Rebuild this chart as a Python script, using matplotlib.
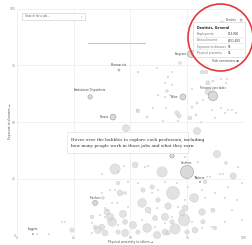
import numpy as np
import matplotlib
matplotlib.use("Agg")
import matplotlib.pyplot as plt
from matplotlib.patches import Rectangle, Ellipse
from matplotlib.lines import Line2D

# unlabelled occupations: physical proximity, exposure to diseases, employment (thousands)
prox = [43.2, 52.0, 63.9, 88.1, 95.2, 92.0, 68.7, 55.1, 78.0, 81.5, 73.6, 69.6,
        65.2, 57.3, 46.7, 41.9, 35.7, 51.1, 44.5, 66.5, 72.7, 62.1, 61.7, 47.6,
        38.8, 78.4, 65.2, 86.3, 87.2, 82.8, 59.5, 55.5, 79.3, 48.0, 24.2, 45.4,
        41.0, 37.4, 81.5, 83.3, 84.1, 84.1, 86.3, 70.5, 71.4, 76.2, 78.9, 79.3,
        77.1, 52.9, 66.1, 66.5, 71.8, 53.3, 53.3, 57.3, 90.3,
        74.0, 57.7, 39.6, 47.6, 60.8, 68.3, 81.9, 74.9, 66.5, 44.5, 53.3, 34.4,
        33.0, 37.9, 47.6,
        61.7, 62.1, 65.2, 68.3, 81.9, 86.3, 91.6, 94.7, 68.3, 67.4, 65.2, 59.9,
        65.6, 77.1, 89.9, 92.1, 92.5, 89.9, 93.0, 85.9, 96.5, 87.2, 81.1, 64.3,
        70.9, 37.4, 44.5, 47.1, 56.4, 57.7, 48.9, 53.3, 41.0, 37.4, 59.5, 62.1,
        70.5, 78.4, 83.7, 85.0, 89.4, 90.7, 97.4, 81.5, 87.2, 91.6, 96.9, 94.7,
        99.1, 91.6, 85.9, 74.0, 70.9, 61.7, 58.6, 48.9, 44.1, 38.8, 38.8, 33.0,
        33.0, 55.1, 68.3, 77.1, 81.5, 65.2, 44.5, 60.8, 82.8, 75.3, 65.2, 74.0,
        79.7, 99.1, 93.0, 19.8, 21.1, 8.8, 14.1, 36.6, 41.9, 39.6, 43.2, 45.4]
expo = [29.2, 31.0, 27.9, 35.8, 26.1, 31.9, 18.6, 14.2, 16.4, 10.2, 6.6, 2.7,
        8.0, 3.1, 9.3, 5.8, 2.2, 4.4, 23.0, 12.8, 9.7, 15.5, 0.0, 0.9,
        0.9, 2.2, 1.3, 11.0, 3.1, 23.5, 21.2, 19.9, 46.0, 47.3, 2.2, 18.6,
        8.0, 3.5, 72.1, 72.1, 67.3, 63.3, 68.1, 54.0, 52.7, 51.8, 53.1, 58.4,
        56.6, 55.3, 63.7, 69.9, 76.1, 72.1, 54.9, 52.2, 93.8,
        11.9, 11.1, 10.2, 5.8, 7.5, 5.8, 5.8, 1.3, 0.9, 1.3, 1.3, 3.5,
        8.0, 16.4, 18.6,
        73.9, 61.9, 67.3, 72.1, 59.7, 64.2, 54.0, 55.3, 66.4, 61.9, 61.1, 56.2,
        56.2, 64.6, 69.0, 67.3, 69.0, 56.2, 55.3, 55.3, 54.0, 51.8, 50.0, 50.4,
        50.4, 27.0, 27.9, 30.5, 30.1, 30.5, 23.5, 23.0, 19.9, 18.6, 18.6, 19.9,
        23.0, 25.7, 25.7, 25.7, 27.0, 27.0, 30.1, 19.9, 18.6, 16.4, 15.5, 11.1,
        6.6, 5.8, 3.5, 15.5, 12.4, 11.9, 9.7, 12.4, 14.2, 11.9, 8.0, 5.3,
        0.9, 6.6, 8.0, 5.8, 3.1, 5.3, 4.4, 3.5, 16.4, 21.2, 23.5, 34.5,
        32.3, 23.0, 21.2, 5.8, 5.8, 0.4, 0.4, 8.8, 14.2, 11.1, 19.9, 15.5]
emp = [1826, 602, 1826, 900, 744, 140, 2975, 1322, 1322, 744, 2321, 1826,
       900, 1322, 900, 1322, 900, 900, 240, 744, 600, 330, 900, 900,
       600, 600, 600, 330, 240, 240, 330, 330, 900, 900, 330, 600,
       900, 600, 240, 240, 330, 600, 80, 330, 330, 240, 80, 80,
       80, 80, 140, 50, 140, 50, 240, 80, 330,
       600, 600, 600, 440, 440, 330, 330, 330, 330, 330, 330, 240,
       240, 140, 140] + [40] * 83

# labelled occupations
lab_name = ["Dentists", "Surgeons", "Pharmacists", "Ambulance Dispatchers",
            "Nurses", "Police", "Personal care aides", "Fast food workers",
            "Cashiers", "Barbers", "Teachers", "Loggers"]
lab_prox = [98.7, 76.7, 44.9, 32.2, 42.3, 73.1, 86.3, 68.3, 74.9, 80.6, 34.4, 7.0]
lab_expo = [95.1, 80.1, 73.0, 61.1, 52.2, 61.1, 61.5, 35.0, 27.9, 23.5, 14.2, 0.4]
lab_emp = [80, 900, 80, 330, 600, 600, 1528, 330, 2975, 40, 437, 40]
# label placement (offset in points, alignment)
lab_off = [(-3, 0), (-3, 0), (0, 2), (0, 3.5), (-3, 0), (-3, 0),
           (0, 4), (0, 2), (0, 5), (0, 1.5), (0, 2), (0, 2)]
lab_ha = ["right", "right", "center", "center", "right", "right",
          "center", "center", "center", "center", "center", "center"]

ticks = [0, 25, 50, 75, 100]

tip_title = "Dentists, General"
tip_rows = [("Employment", "113,000"), ("Annual income", "$151,850"),
            ("Exposure to diseases", "95"), ("Physical proximity", "94")]
note = ["Hover over the bubbles to explore each profession, including",
        "how many people work in those jobs and what they earn."]

W, H = 253, 245
fig = plt.figure(figsize=(W / 100, H / 100), dpi=100)
fig.patch.set_facecolor("white")


def fx(px):
    return px / W


def fy(py):
    return 1 - py / H


ax = fig.add_axes([17 / W, 10 / H, 227 / W, 226 / H])
ax.set_xlim(0, 100)
ax.set_ylim(0, 100)
for s in ax.spines.values():
    s.set_visible(False)
ax.set_xticks(ticks)
ax.set_yticks(ticks)
ax.tick_params(length=0, labelsize=2.2, labelcolor="#888", pad=1)
ax.grid(True, color="#ececec", lw=0.5)
ax.set_axisbelow(True)


def size(e):
    r = 0.12 * np.sqrt(np.asarray(e, dtype=float))
    return (1.44 * r) ** 2


order = np.argsort(emp)[::-1]
ax.scatter(np.array(prox)[order], np.array(expo)[order], s=size(np.array(emp)[order]),
           facecolor="#d6d6d6", edgecolor="#bebebe", lw=0.3, alpha=0.7,
           clip_on=False, zorder=2)
ax.scatter(lab_prox, lab_expo, s=size(lab_emp), facecolor="#d6d6d6",
           edgecolor="#8a8a8a", lw=0.35, alpha=0.9, clip_on=False, zorder=3)
for n, x, y, off, ha in zip(lab_name, lab_prox, lab_expo, lab_off, lab_ha):
    ax.annotate(n, (x, y), xytext=off, textcoords="offset points", ha=ha,
                va="center" if ha == "right" else "bottom", fontsize=1.9,
                color="#444", zorder=4)

fig.text(fx(10), fy(121), "Exposure to diseases \u2192", rotation=90, ha="center",
         va="center", fontsize=2.2, color="#555")
fig.text(fx(131), fy(242), "Physical proximity to others \u2192", ha="center",
         va="center", fontsize=2.2, color="#555")

# search box
fig.add_artist(Rectangle((fx(22), fy(20)), 63 / W, 7 / H, transform=fig.transFigure,
                         facecolor="white", edgecolor="#c8c8c8", lw=0.4))
fig.text(fx(25), fy(16.5), "Search for a job...", fontsize=2.1, color="#666",
         va="center")
fig.text(fx(82), fy(16.5), "v", fontsize=1.8, color="#999", va="center", ha="center")

fig.add_artist(Line2D([fx(88), fx(145)], [fy(43), fy(43)], transform=fig.transFigure,
                      color="#c4c4c4", lw=0.7))

# note box
fig.add_artist(Rectangle((fx(68), fy(154)), 121 / W, 21 / H, transform=fig.transFigure,
                         facecolor="#e6e6e6", edgecolor="none", alpha=0.6))
fig.add_artist(Rectangle((fx(67), fy(153)), 121 / W, 21 / H, transform=fig.transFigure,
                         facecolor="white", edgecolor="#dddddd", lw=0.4))
for i, line in enumerate(note):
    fig.text(fx(71), fy(140 + i * 6.3), line, fontsize=3.1, color="#333",
             family="DejaVu Serif", va="center")

# tooltip
fig.add_artist(Rectangle((fx(193), fy(57)), 52 / W, 35 / H, transform=fig.transFigure,
                         facecolor="white", edgecolor="#d0d0d0", lw=0.4))
fig.text(fx(197), fy(27.5), tip_title, fontsize=2.3, weight="bold", color="#222",
         va="center")
for i, (k, v) in enumerate(tip_rows):
    yy = 34.3 + i * 6.1
    fig.text(fx(197), fy(yy), k, fontsize=2.0, color="#777", va="center")
    fig.text(fx(228), fy(yy), v, fontsize=2.0, color="#333", va="center")
    if i < len(tip_rows) - 1:
        fig.add_artist(Line2D([fx(196), fx(243)], [fy(yy + 3), fy(yy + 3)],
                              transform=fig.transFigure, color="#e2e2e2", lw=0.4))
fig.text(fx(225), fy(61), "Hide annotations \u24d8", fontsize=2.0, color="#555",
         ha="center", va="center", family=["DejaVu Sans", "Noto Sans CJK SC"])

fig.add_artist(Ellipse((fx(220.5), fy(37.5)), 65 / W, 67 / H, transform=fig.transFigure,
                       facecolor="none", edgecolor="#e5383b", lw=1.2))

fig.savefig("out.png", dpi=100)
